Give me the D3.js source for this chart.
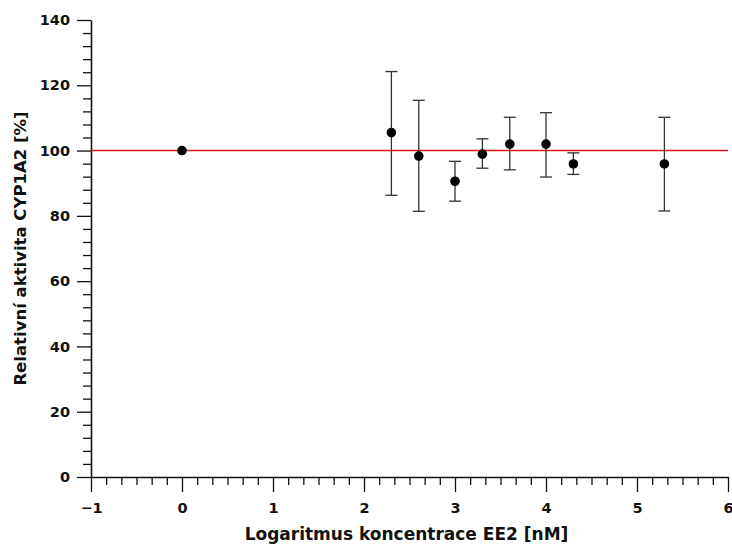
<!DOCTYPE html>
<html>
<head>
<meta charset="utf-8">
<script src="https://cdn.jsdelivr.net/npm/d3@7"></script>
<style>
  body { margin: 0; background: #fff; }
  svg text { font-family: "DejaVu Sans", sans-serif; font-weight: bold; }
</style>
</head>
<body>
<svg width="732" height="544"></svg>
<script>
// log10 of concentration [nM], mean activity, error bar limits
const logConc = [0, 2.301, 2.602, 3, 3.301, 3.602, 4, 4.301, 5.301];
const activity = [100, 105.5, 98.3, 90.6, 98.9, 102.0, 102.0, 95.9, 95.9];
const errLow  = [100, 86.3, 81.4, 84.5, 94.6, 94.1, 91.9, 92.7, 81.5];
const errHigh = [100, 124.2, 115.4, 96.7, 103.6, 110.2, 111.6, 99.3, 110.2];
const xTicks = [-1, 0, 1, 2, 3, 4, 5, 6];
const yTicks = [0, 20, 40, 60, 80, 100, 120, 140];
const refLevel = 100;

const svg = d3.select('svg');
const margin = { top: 20, right: 4, bottom: 67, left: 91 };
const W = 732, H = 544;

const x = d3.scaleLinear().domain([-1, 6]).range([margin.left, W - margin.right]);
const y = d3.scaleLinear().domain([0, 140]).range([H - margin.bottom, margin.top]);

// minor ticks
const xMinor = d3.range(-1, 6.0001, 1 / 6).filter(v => Math.abs(v - Math.round(v)) > 1e-6);
const yMinor = d3.range(0, 140.0001, 4).filter(v => v % 20 !== 0);

const gx = svg.append('g').attr('transform', `translate(0,${y(0)})`);
gx.call(d3.axisBottom(x).tickValues(xMinor).tickSize(8).tickFormat(''));
gx.call(g => g.select('.domain').remove());
const gx2 = svg.append('g').attr('transform', `translate(0,${y(0)})`)
  .call(d3.axisBottom(x).tickValues(xTicks).tickSize(15).tickSizeOuter(0)
    .tickFormat(d => d < 0 ? '\u2212' + Math.abs(d) : d));
gx2.selectAll('text').style('font-size', '14.5px').attr('y', 23).attr('dy', '0.9em').attr('fill', '#111');

const gy = svg.append('g').attr('transform', `translate(${x(-1)},0)`);
gy.call(d3.axisLeft(y).tickValues(yMinor).tickSize(8).tickFormat(''));
gy.call(g => g.select('.domain').remove());
const gy2 = svg.append('g').attr('transform', `translate(${x(-1)},0)`)
  .call(d3.axisLeft(y).tickValues(yTicks).tickSize(14).tickSizeOuter(0));
gy2.selectAll('text').style('font-size', '14.5px').attr('x', -21).attr('fill', '#111');

svg.selectAll('.domain').attr('stroke', '#111').attr('stroke-width', 1.6);
svg.selectAll('.tick line').attr('stroke', '#111').attr('stroke-width', 1.3);

// reference line
svg.append('line')
  .attr('x1', x(-1)).attr('x2', x(6))
  .attr('y1', y(refLevel)).attr('y2', y(refLevel))
  .attr('stroke', '#e8141a').attr('stroke-width', 1.5);

// error bars
const pts = logConc.map((c, i) => ({ c, v: activity[i], lo: errLow[i], hi: errHigh[i] }));
const eb = svg.append('g').attr('stroke', '#333').attr('stroke-width', 1.3);
pts.filter(d => d.hi - d.lo > 0.5).forEach(d => {
  eb.append('line').attr('x1', x(d.c)).attr('x2', x(d.c)).attr('y1', y(d.lo)).attr('y2', y(d.hi));
  [d.lo, d.hi].forEach(v => eb.append('line')
    .attr('x1', x(d.c) - 6).attr('x2', x(d.c) + 6).attr('y1', y(v)).attr('y2', y(v)));
});

svg.append('g').selectAll('circle').data(pts).join('circle')
  .attr('cx', d => x(d.c)).attr('cy', d => y(d.v)).attr('r', 4.8).attr('fill', '#000');

// axis titles
svg.append('text').attr('x', (x(-1) + x(6)) / 2 - 3).attr('y', 540)
  .attr('text-anchor', 'middle').style('font-size', '17px').attr('fill', '#111')
  .text('Logaritmus koncentrace EE2 [nM]');
svg.append('text').attr('transform', `translate(26,${(y(0) + y(140)) / 2}) rotate(-90)`)
  .attr('text-anchor', 'middle').style('font-size', '16.5px').attr('fill', '#111')
  .text('Relativní aktivita CYP1A2 [%]');
</script>
</body>
</html>
